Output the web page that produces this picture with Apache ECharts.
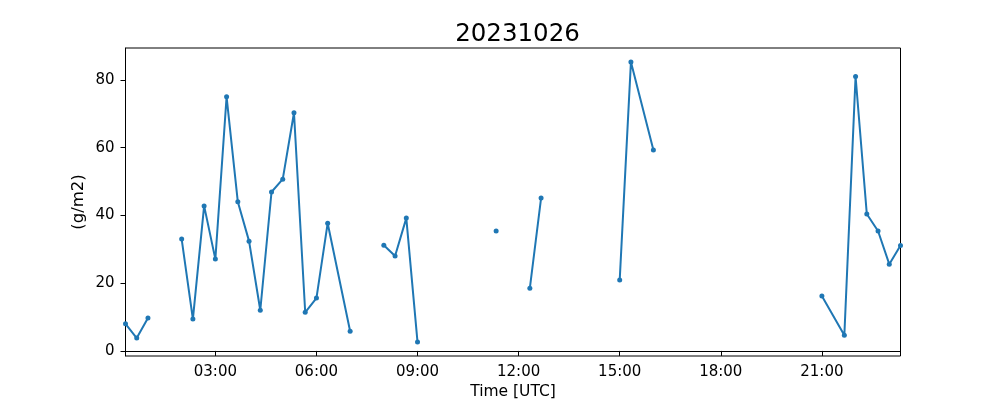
<!DOCTYPE html>
<html>
<head>
<meta charset="utf-8">
<script src="https://cdn.jsdelivr.net/npm/echarts@6/dist/echarts.min.js"></script>
<style>html,body{margin:0;padding:0;background:#fff}#c{width:1000px;height:400px}</style>
</head>
<body>
<div id="c"></div>
<script>
// Observation times (UTC) and values; null marks a gap in the record
const times = ['00:20','00:40','01:00','01:20',
  '02:00','02:20','02:40','03:00','03:20','03:40','04:00','04:20','04:40','05:00','05:20','05:40','06:00','06:20','07:00','07:20',
  '08:00','08:20','08:40','09:00','09:20',
  '11:20','11:40',
  '12:20','12:40','13:00',
  '15:00','15:20','16:00','16:20',
  '21:00','21:40','22:00','22:20','22:40','23:00','23:20'];
const values = [8.0,3.8,9.7,null,
  33.0,9.4,42.8,27.1,75.0,44.0,32.4,12.0,46.9,50.7,70.3,11.4,15.6,37.7,5.8,null,
  31.2,28.0,39.2,2.6,null,
  35.4,null,
  18.5,45.1,null,
  20.9,85.3,59.3,null,
  16.2,4.6,81.0,40.4,35.4,25.6,31.1];
const xTickLabels = ['03:00','06:00','09:00','12:00','15:00','18:00','21:00'];
const yTicks = [0,20,40,60,80];
const title = '20231026';

const toMin = s => { const p = s.split(':'); return (+p[0])*60 + (+p[1]); };
const pad = n => (n < 10 ? '0' : '') + n;
const fmt = m => pad(Math.floor(m/60)) + ':' + pad(Math.round(m%60));
const data = times.map((t,i) => [toMin(t), values[i]]);
const xTicks = xTickLabels.map(toMin);

const font = 'DejaVu Sans';
const chart = echarts.init(document.getElementById('c'), null, {renderer:'canvas'});
chart.setOption({
  animation: false,
  backgroundColor: '#fff',
  title: {text: title, left: 512.5, top: 17, textAlign: 'center',
    textStyle: {fontFamily: font, fontSize: 24.5, fontWeight: 'normal', color: '#000'}},
  grid: {left: 125.5, top: 48, width: 775, height: 308, show: true, borderColor: '#000', borderWidth: 1,
    backgroundColor: 'transparent', containLabel: false, outerBoundsMode: 'none'},
  xAxis: {
    type: 'value', min: toMin(times[0]), max: toMin(times[times.length-1]),
    name: 'Time [UTC]', nameLocation: 'middle', nameGap: 28, nameMoveOverlap: false,
    nameTextStyle: {fontFamily: font, fontSize: 15.5, color: '#000'},
    splitLine: {show: false},
    axisLine: {show: true, lineStyle: {color: '#000', width: 1}},
    axisTick: {show: true, length: 5, lineStyle: {color: '#000'}, customValues: xTicks},
    axisLabel: {fontFamily: font, fontSize: 15, color: '#000', margin: 9, customValues: xTicks, formatter: v => fmt(v)}
  },
  yAxis: {
    type: 'value', min: -1.5, max: 89.4,
    name: '(g/m2)', nameLocation: 'middle', nameGap: 38, nameRotate: 90, nameMoveOverlap: false,
    nameTextStyle: {fontFamily: font, fontSize: 16.5, color: '#000'},
    splitLine: {show: false},
    axisLine: {show: true, lineStyle: {color: '#000', width: 1}},
    axisTick: {show: true, length: 5, lineStyle: {color: '#000'}, customValues: yTicks},
    axisLabel: {fontFamily: font, fontSize: 15, color: '#000', margin: 11, customValues: yTicks}
  },
  series: [{
    type: 'line', data: data, connectNulls: false,
    showSymbol: true, showAllSymbol: true, symbol: 'circle', symbolSize: 5,
    lineStyle: {color: '#1f77b4', width: 2},
    itemStyle: {color: '#1f77b4'}
  }]
});
</script>
</body>
</html>
